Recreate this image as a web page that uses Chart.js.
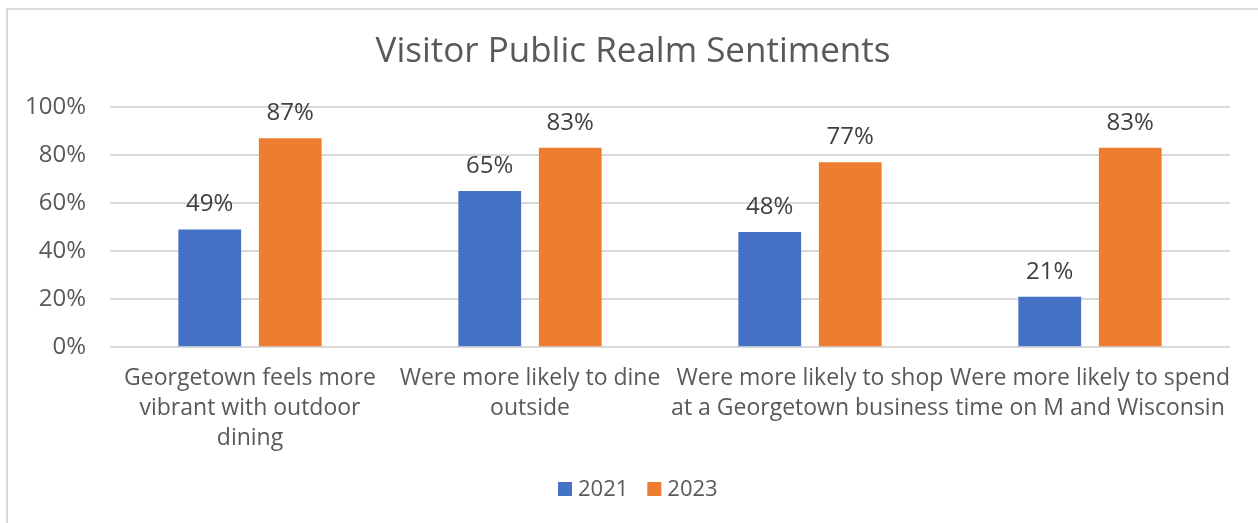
<!DOCTYPE html>
<html>
<head>
<meta charset="utf-8">
<script src="https://cdn.jsdelivr.net/npm/chart.js@4/dist/chart.umd.min.js"></script>
<style>
html,body{margin:0;padding:0;background:#fff;overflow:hidden;}
#wrap{position:relative;width:1258px;height:523px;overflow:hidden;}
#frame{position:absolute;left:6px;top:8px;width:2000px;height:2000px;border-left:2px solid #d9d9d9;border-top:2px solid #d9d9d9;box-sizing:border-box;}
#c{position:absolute;left:0;top:0;}
</style>
</head>
<body>
<div id="wrap">
<div id="frame"></div>
<canvas id="c" width="1258" height="523"></canvas>
</div>
<script>
const titleText = "Visitor Public Realm Sentiments";
const categories = [
  ["Georgetown feels more", "vibrant with outdoor", "dining"],
  ["Were more likely to dine", "outside"],
  ["Were more likely to shop", "at a Georgetown business"],
  ["Were more likely to spend", "time on M and Wisconsin"]
];
const seriesNames = ["2021", "2023"];
const values2021 = [0.49, 0.65, 0.48, 0.21];
const values2023 = [0.87, 0.83, 0.77, 0.83];
const tickValues = [0, 0.2, 0.4, 0.6, 0.8, 1.0];

const FONT = "'Open Sans', 'Noto Sans', sans-serif";

const titlePlugin = {
  id: 'customTitle',
  afterDraw(chart) {
    const ctx = chart.ctx;
    ctx.save();
    ctx.font = "35px " + FONT;
    ctx.fillStyle = "#595959";
    ctx.textAlign = "center";
    ctx.textBaseline = "middle";
    ctx.fillText(titleText, 633, 52);
    ctx.restore();
  }
};

const legendPlugin = {
  id: 'customLegend',
  afterDraw(chart) {
    const ctx = chart.ctx;
    ctx.save();
    ctx.font = "22px " + FONT;
    ctx.textBaseline = "middle";
    ctx.textAlign = "left";
    let x = 558;
    const yMid = 489;
    chart.data.datasets.forEach((ds) => {
      ctx.fillStyle = ds.backgroundColor;
      ctx.fillRect(x, yMid - 7, 14, 14);
      x += 14 + 6;
      ctx.fillStyle = "#595959";
      ctx.fillText(ds.label, x, yMid + 1);
      x += ctx.measureText(ds.label).width + 19;
    });
    ctx.restore();
  }
};

const labelPlugin = {
  id: 'valueLabels',
  afterDatasetsDraw(chart) {
    const ctx = chart.ctx;
    ctx.save();
    ctx.font = "24px " + FONT;
    ctx.fillStyle = "#404040";
    ctx.textAlign = "center";
    ctx.textBaseline = "middle";
    chart.data.datasets.forEach((ds, di) => {
      const meta = chart.getDatasetMeta(di);
      meta.data.forEach((bar, i) => {
        ctx.fillText(Math.round(ds.data[i] * 100) + "%", bar.x, bar.y - 25);
      });
    });
    ctx.restore();
  }
};

new Chart(document.getElementById('c'), {
  type: 'bar',
  data: {
    labels: categories,
    datasets: [
      { label: seriesNames[0], data: values2021, backgroundColor: '#4472C4', categoryPercentage: 0.575, barPercentage: 0.78 },
      { label: seriesNames[1], data: values2023, backgroundColor: '#ED7D31', categoryPercentage: 0.575, barPercentage: 0.78 }
    ]
  },
  options: {
    responsive: false,
    animation: false,
    layout: { padding: { top: 107, right: 28, left: 0, bottom: 54 } },
    plugins: {
      title: { display: false },
      tooltip: { enabled: false },
      legend: { display: false }
    },
    scales: {
      x: {
        grid: { display: false, drawTicks: false },
        border: { display: false },
        ticks: {
          font: { family: FONT, size: 23, lineHeight: 1.3 },
          color: '#595959',
          autoSkip: false,
          maxRotation: 0,
          minRotation: 0,
          padding: 16
        }
      },
      y: {
        min: 0,
        max: 1,
        afterFit(scale) { scale.width = 110; },
        afterBuildTicks(scale) { scale.ticks = tickValues.map(v => ({ value: v })); },
        grid: { color: '#d9d9d9', lineWidth: 2, drawTicks: false },
        border: { display: false },
        ticks: {
          font: { family: FONT, size: 24 },
          color: '#595959',
          padding: 24,
          callback: v => Math.round(v * 100) + '%'
        }
      }
    }
  },
  plugins: [titlePlugin, labelPlugin, legendPlugin]
});
</script>
</body>
</html>
